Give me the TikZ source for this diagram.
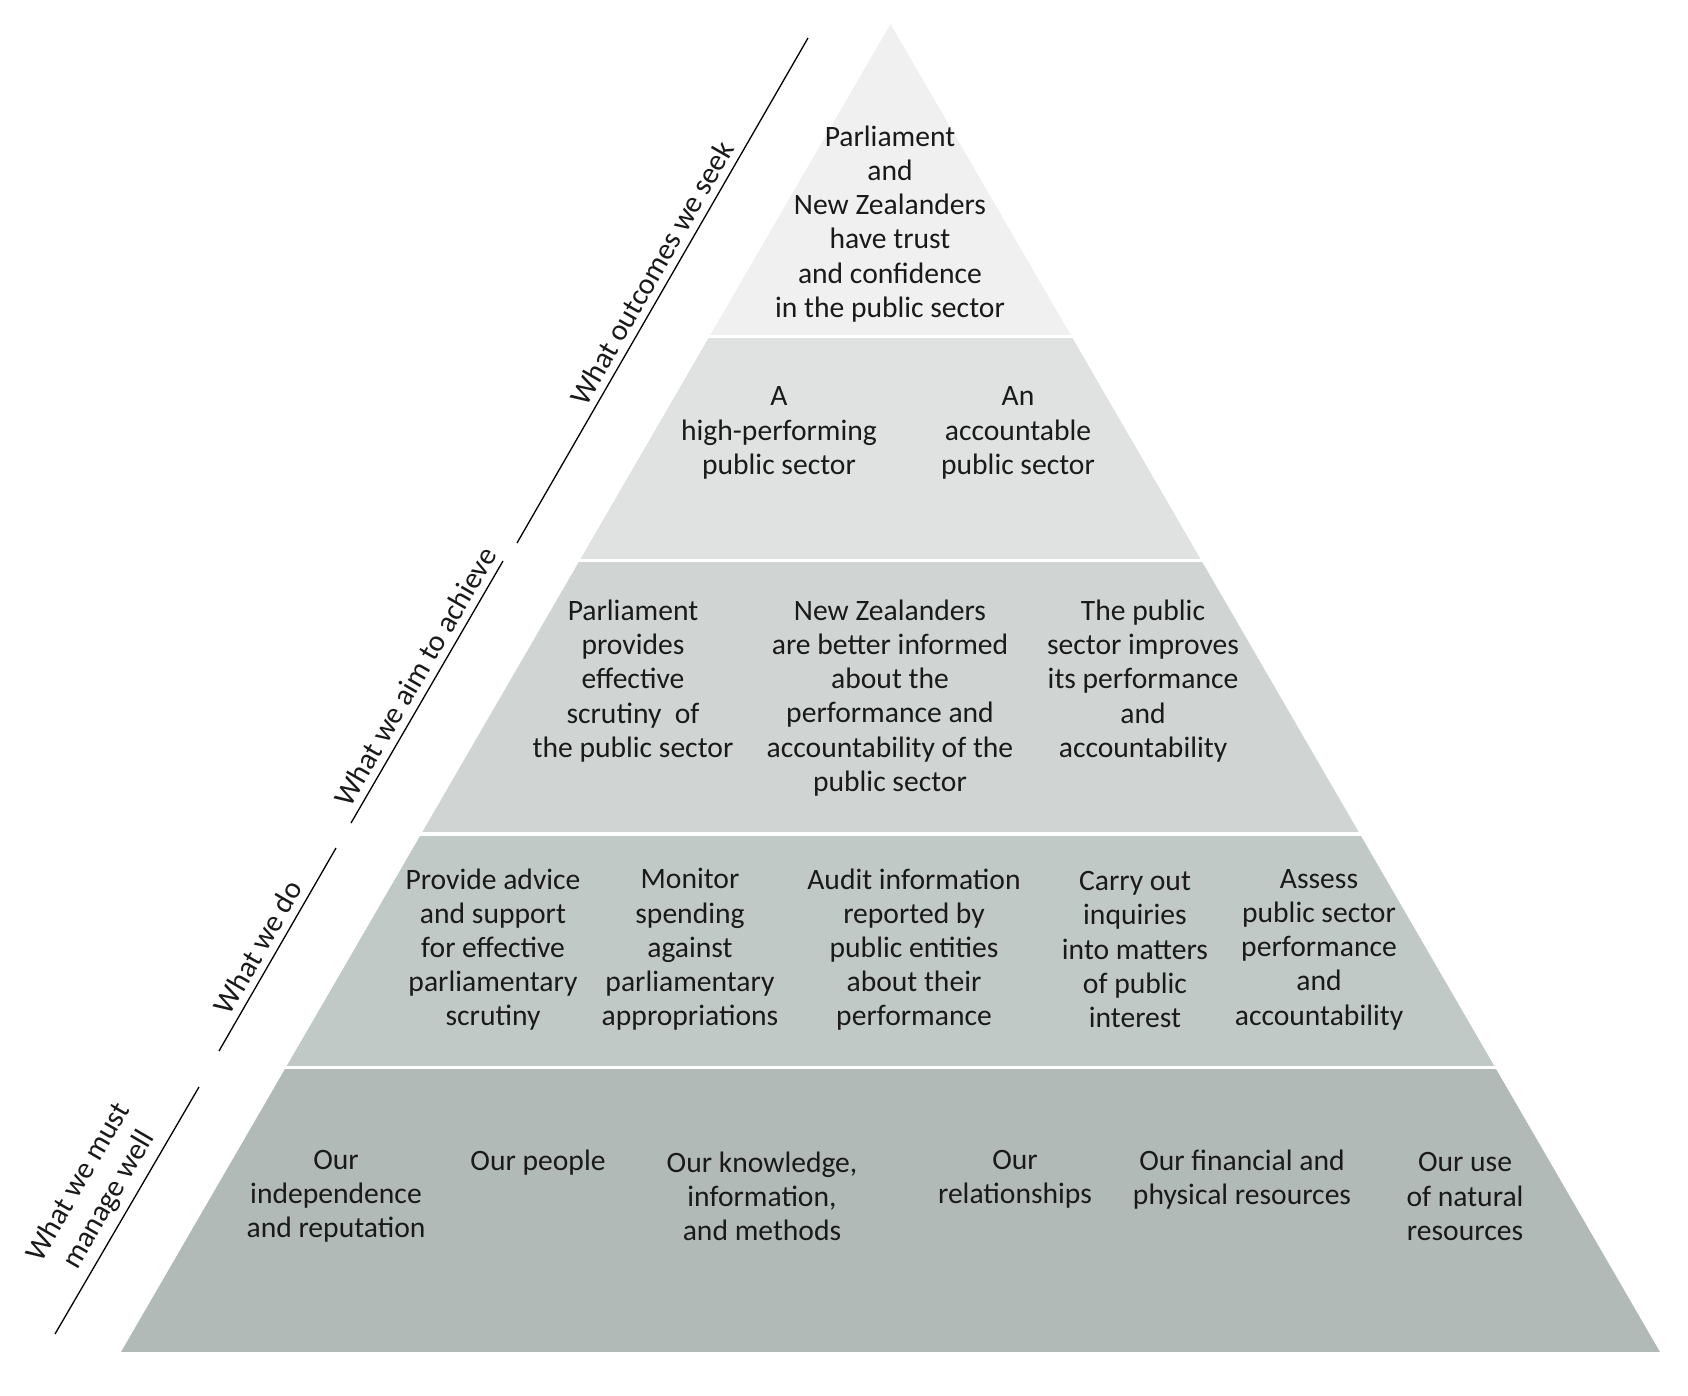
\documentclass[tikz,border=0pt]{standalone}
\usepackage{fontspec}
\setmainfont{Carlito}
\usetikzlibrary{calc}
\definecolor{bandA}{HTML}{EFF0EF}
\definecolor{bandB}{HTML}{DFE2E1}
\definecolor{bandC}{HTML}{D0D5D3}
\definecolor{bandD}{HTML}{C1C9C6}
\definecolor{bandE}{HTML}{B1BAB7}
\definecolor{ink}{HTML}{1A1A1A}
\begin{document}
\begin{tikzpicture}[x=1pt,y=-1pt,
  txt/.style={font=\fontsize{29.6}{34.2}\selectfont, align=center, inner sep=0pt, text=ink},
  sidelab/.style={font=\fontsize{30}{35}\selectfont, align=center, inner sep=0pt, text=ink, sloped, above=7pt},
  sideline/.style={draw=black, line width=1.3pt}]
\useasboundingbox (0,0) rectangle (1688,1396);
\coordinate (apex) at (890.5,24);
\coordinate (bl) at (121,1352);
\coordinate (br) at (1660,1352);
\begin{scope}
  \clip (apex) -- (bl) -- (br) -- cycle;
  \fill[bandA] (0,0) rectangle (1688,335);
  \fill[bandB] (0,338) rectangle (1688,559);
  \fill[bandC] (0,562) rectangle (1688,832);
  \fill[bandD] (0,836) rectangle (1688,1066);
  \fill[bandE] (0,1069) rectangle (1688,1352);
\end{scope}

% band 1
\node[txt] (t1) at (890,224) {Parliament\\and\\New Zealanders\\have trust\\and confidence\\in the public sector};
% band 2
\node[txt] (t2a) at (779,433) {A\\high-performing\\public sector};
\node[txt] (t2b) at (1018,433) {An\\accountable\\public sector};
% band 3
\node[txt] (t3a) at (633,681) {Parliament\\provides\\effective\\scrutiny\ \ of\\the public sector};
\node[txt] (t3b) at (890,698) {New Zealanders\\are better informed\\about the\\performance and\\accountability of the\\public sector};
\node[txt] (t3c) at (1143,681) {The public\\sector improves\\its performance\\and\\accountability};
% band 4
\node[txt] (t4a) at (493,949.5) {Provide advice\\and support\\for effective\\parliamentary\\scrutiny};
\node[txt] (t4b) at (690,949.5) {Monitor\\spending\\against\\parliamentary\\appropriations};
\node[txt] (t4c) at (914,949.5) {Audit information\\reported by\\public entities\\about their\\performance};
\node[txt] (t4d) at (1135,949.5) {Carry out\\inquiries\\into matters\\of public\\interest};
\node[txt] (t4e) at (1319,949.5) {Assess\\public sector\\performance\\and\\accountability};
% band 5
\node[txt] (t5a) at (336,1196.5) {Our\\independence\\and reputation};
\node[txt] (t5b) at (538,1162.5) {Our people};
\node[txt] (t5c) at (762,1196.5) {Our knowledge,\\information,\\and methods};
\node[txt] (t5d) at (1015,1179.5) {Our\\relationships};
\node[txt] (t5e) at (1242,1179.5) {Our financial and\\physical resources};
\node[txt] (t5f) at (1465,1196.5) {Our use\\of natural\\resources};

% side lines and labels
\coordinate (l1a) at (517,543);
\coordinate (l1b) at (808,38);
\coordinate (l2a) at (351,823);
\coordinate (l2b) at (503,561);
\coordinate (l3a) at (219,1051);
\coordinate (l3b) at (336,848);
\coordinate (l4a) at (55,1334);
\coordinate (l4b) at (199,1087);
\draw[sideline] (l1a) -- node[sidelab, pos=0.517] (s1) {What outcomes we seek} (l1b);
\draw[sideline] (l2a) -- node[sidelab, pos=0.525] (s2) {What we aim to achieve} (l2b);
\draw[sideline] (l3a) -- node[sidelab, pos=0.467] (s3) {What we do} (l3b);
\draw[sideline] (l4a) -- node[sidelab, pos=0.5] (s4) {What we must\\manage well} (l4b);
\end{tikzpicture}
\end{document}
